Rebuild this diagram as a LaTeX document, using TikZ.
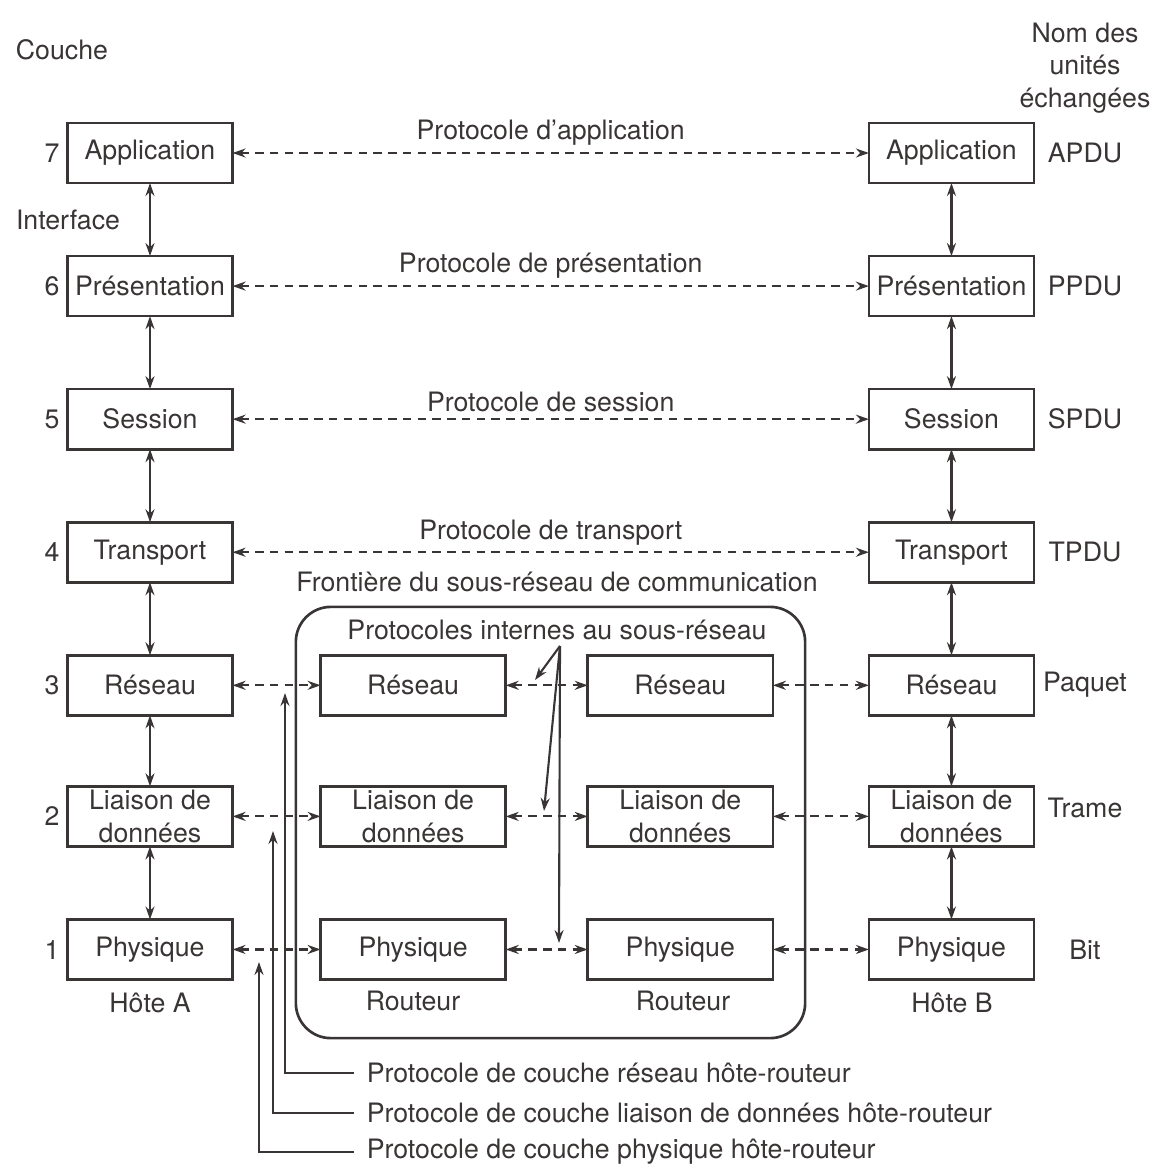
\documentclass[tikz,border=0pt]{standalone}
\usepackage{fontspec}
\setmainfont{TeX Gyre Heros}
\usepackage{tikz}
\usetikzlibrary{arrows.meta, positioning}

\definecolor{ink}{HTML}{3A3535}

\begin{document}
\begin{tikzpicture}[
    x=0.01cm, y=-0.01cm,
    color=ink,
    line width=0.6pt,
    font=\fontsize{7.6}{9.2}\selectfont,
    layer/.style={
        rectangle,
        draw=ink,
        line width=0.75pt,
        minimum width=1.65cm,
        minimum height=0.6cm,
        inner ysep=0pt,
        inner xsep=0.5pt,
        outer sep=0pt,
        align=center
    },
    relay/.style={
        layer,
        minimum width=1.85cm
    },
    peer/.style={
        {Stealth[length=1.3mm,width=0.9mm]}-{Stealth[length=1.3mm,width=0.9mm]},
        dash pattern=on 2.4pt off 1.8pt
    },
    stack/.style={
        {Stealth[length=1.3mm,width=0.9mm]}-{Stealth[length=1.3mm,width=0.9mm]}
    },
    point/.style={
        -{Stealth[length=1.3mm,width=0.9mm]}
    },
    proto/.style={
        midway,
        above,
        inner sep=1.8pt
    }
]
    \useasboundingbox (0,0) rectangle (1167,1169);

    % host A
    \node (appA) [layer] at (150,153) {Application};
    \node (presA) [layer, below=0.73cm of appA] {Présentation};
    \node (sessA) [layer, below=0.73cm of presA] {Session};
    \node (transA) [layer, below=0.73cm of sessA] {Transport};
    \node (resA) [layer, below=0.73cm of transA] {Réseau};
    \node (liaisA) [layer, below=0.71cm of resA] {Liaison de\\données};
    \node (physA) [layer, below=0.73cm of liaisA] {Physique};

    % host B
    \node (appB) [layer, right=6.36cm of appA] {Application};
    \node (presB) [layer, right=6.36cm of presA] {Présentation};
    \node (sessB) [layer, right=6.36cm of sessA] {Session};
    \node (transB) [layer, right=6.36cm of transA] {Transport};
    \node (resB) [layer, right=6.36cm of resA] {Réseau};
    \node (liaisB) [layer, right=6.36cm of liaisA] {Liaison de\\données};
    \node (physB) [layer, right=6.36cm of physA] {Physique};

    % subnet border
    \node (subnet) [draw=ink, line width=0.75pt, rounded corners=0.35cm,
        minimum width=5.09cm, minimum height=4.31cm] at (550.5,822.5) {};

    % routers
    \node (resR) [relay, right=0.88cm of resA] {Réseau};
    \node (liaisR) [relay, right=0.88cm of liaisA] {Liaison de\\données};
    \node (physR) [relay, right=0.88cm of physA] {Physique};
    \node (resS) [relay, right=0.82cm of resR] {Réseau};
    \node (liaisS) [relay, right=0.82cm of liaisR] {Liaison de\\données};
    \node (physS) [relay, right=0.82cm of physR] {Physique};

    % headings and side labels
    \node (couche) at (62,50) {Couche};
    \node (units) [align=center] at (1085,68) {Nom des\\unités\\échangées};
    \node (iface) at (68,220) {Interface};
    \node (n7) at (52,153) {7};
    \node (n6) at (52,286) {6};
    \node (n5) at (52,419) {5};
    \node (n4) at (52,552) {4};
    \node (n3) at (52,685) {3};
    \node (n2) at (52,816) {2};
    \node (n1) at (52,950) {1};
    \node (apdu) at (1085,153) {APDU};
    \node (ppdu) at (1085,286) {PPDU};
    \node (spdu) at (1085,419) {SPDU};
    \node (tpdu) at (1085,552) {TPDU};
    \node (paquet) at (1085,685) {Paquet};
    \node (trame) at (1085,808) {Trame};
    \node (bit) at (1085,950) {Bit};
    \node (hoteA) at (150,1003) {Hôte A};
    \node (routeurR) at (413,1001) {Routeur};
    \node (routeurS) at (683,1001) {Routeur};
    \node (hoteB) at (952,1003) {Hôte B};
    \node (frontiere) at (557,582) {Frontière du sous-réseau de communication};
    \node (internes) at (557,630) {Protocoles internes au sous-réseau};

    % layer interfaces
    \draw [stack] (appA) -- (presA);
    \draw [stack] (presA) -- (sessA);
    \draw [stack] (sessA) -- (transA);
    \draw [stack] (transA) -- (resA);
    \draw [stack] (resA) -- (liaisA);
    \draw [stack] (liaisA) -- (physA);
    \draw [stack] (appB) -- (presB);
    \draw [stack] (presB) -- (sessB);
    \draw [stack] (sessB) -- (transB);
    \draw [stack] (transB) -- (resB);
    \draw [stack] (resB) -- (liaisB);
    \draw [stack] (liaisB) -- (physB);

    % peer protocols
    \draw [peer] (appA) -- node[proto] {Protocole d'application} (appB);
    \draw [peer] (presA) -- node[proto] {Protocole de présentation} (presB);
    \draw [peer] (sessA) -- node[proto] {Protocole de session} (sessB);
    \draw [peer] (transA) -- node[proto] {Protocole de transport} (transB);
    \draw [peer] (resA) -- (resR);
    \draw [peer] (resR) -- (resS);
    \draw [peer] (resS) -- (resB);
    \draw [peer] (liaisA) -- (liaisR);
    \draw [peer] (liaisR) -- (liaisS);
    \draw [peer] (liaisS) -- (liaisB);
    \draw [peer] (physA) -- (physR);
    \draw [peer] (physR) -- (physS);
    \draw [peer] (physS) -- (physB);

    % internal protocols
    \coordinate (fork) at (560,646);
    \coordinate (hitRes) at (535,680);
    \coordinate (hitLiais) at (544,811);
    \coordinate (hitPhys) at (559,943);
    \draw [point] (fork) -- (hitRes);
    \draw [point] (fork) -- (hitLiais);
    \draw [point] (fork) -- (hitPhys);

    % host-router protocols
    \node (noteRes) [anchor=west] at (354,1073) {Protocole de couche réseau hôte-routeur};
    \node (noteLiais) [anchor=west] at (354,1113) {Protocole de couche liaison de données hôte-routeur};
    \node (notePhys) [anchor=west] at (354,1152) {Protocole de couche physique hôte-routeur};
    \coordinate (tipRes) at (285,693);
    \coordinate (tipLiais) at (273,831);
    \coordinate (tipPhys) at (259,962);
    \draw [point] (noteRes.west) -| (tipRes);
    \draw [point] (noteLiais.west) -| (tipLiais);
    \draw [point] (notePhys.west) -| (tipPhys);

\end{tikzpicture}
\end{document}
